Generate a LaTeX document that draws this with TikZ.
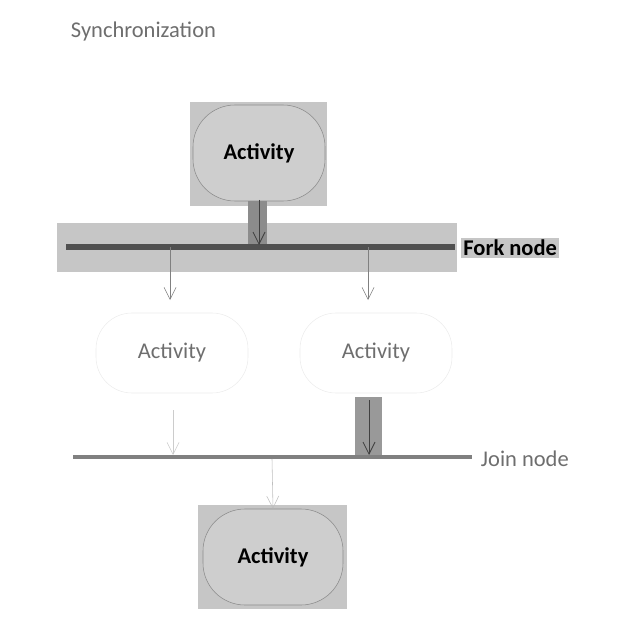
\documentclass[tikz,border=0pt]{standalone}
\usepackage{fontspec}
\setmainfont{Carlito}
\usepackage{tikz}
\usetikzlibrary{arrows.meta,positioning}
\definecolor{HiGray}{RGB}{198,198,198}
\definecolor{BoxGray}{RGB}{206,206,206}
\definecolor{BarGray}{RGB}{80,80,80}
\definecolor{FaintGray}{RGB}{236,236,236}
\definecolor{TextGray}{RGB}{110,110,110}
\newcommand{\bigtext}{\fontsize{16}{19}\selectfont}

\begin{document}
\begin{tikzpicture}[
 x=0.25mm, y=-0.25mm,
 hilite/.style={fill=HiGray, draw=none},
 act/.style={draw=black!45, fill=BoxGray, rounded corners=10.5mm, align=center, minimum width=33mm, minimum height=24mm, font=\bigtext\bfseries},
 faintact/.style={draw=FaintGray, rounded corners=9mm, align=center, minimum width=38mm, minimum height=20mm, font=\bigtext, text=TextGray},
 bar/.style={line width=1.3mm, draw=BarGray},
 flow/.style={-{Straight Barb[length=3mm,width=3mm]}, draw=black!30, thin},
 darkflow/.style={-{Straight Barb[length=3mm,width=3mm]}, draw=black!75, semithick},
 font=\bigtext
]
\useasboundingbox (0,0) rectangle (640,640);

% title
\node[text=TextGray, anchor=west] (title) at (66,32) {Synchronization};

% highlight backgrounds
\fill[HiGray] (190,102) rectangle (327,206);
\fill[HiGray] (57,223) rectangle (457,272);
\fill[black!45] (248,200) rectangle (267,247);
\fill[black!40] (355,397) rectangle (382,455);
\fill[HiGray] (198,505) rectangle (347,609);

% activities
\node[act] (start) at (259,153) {Activity};
\node[faintact] (left) at (172,353) {Activity};
\node[faintact] (right) at (376,353) {Activity};
\node[act, minimum width=35mm] (finish) at (273,557) {Activity};

% fork and join bars
\coordinate (forkL) at (66,247);
\coordinate (forkR) at (455,247);
\coordinate (joinL) at (73,457);
\coordinate (joinR) at (472,457);
\draw[bar] (forkL) -- (forkR);
\draw[bar, draw=black!50, line width=1mm] (joinL) -- (joinR);

\node[fill=HiGray, anchor=west, font=\bigtext\bfseries, inner sep=1.5pt] (forklabel) at (461,248) {Fork node};
\node[text=TextGray, anchor=west] (joinlabel) at (476,459) {Join node};

% connectors
\coordinate (f1) at (170,247);
\coordinate (f2) at (368,247);
\coordinate (l1) at (170,300);
\coordinate (r1) at (368,300);
\coordinate (l2) at (173,410);
\coordinate (r2) at (369,400);
\coordinate (j1) at (173,455);
\coordinate (j2) at (369,455);
\coordinate (j3) at (272,459);
\coordinate (s1) at (259,200);
\coordinate (s2) at (259,245);
\draw[darkflow] (s1) -- (s2);
\draw[flow, draw=black!50] (f1) -- (l1);
\draw[flow, draw=black!50] (f2) -- (r1);
\draw[flow, draw=black!20] (l2) -- (j1);
\draw[darkflow] (r2) -- (j2);
\draw[flow, draw=black!25] (j3) -- (finish.north);
\end{tikzpicture}
\end{document}
